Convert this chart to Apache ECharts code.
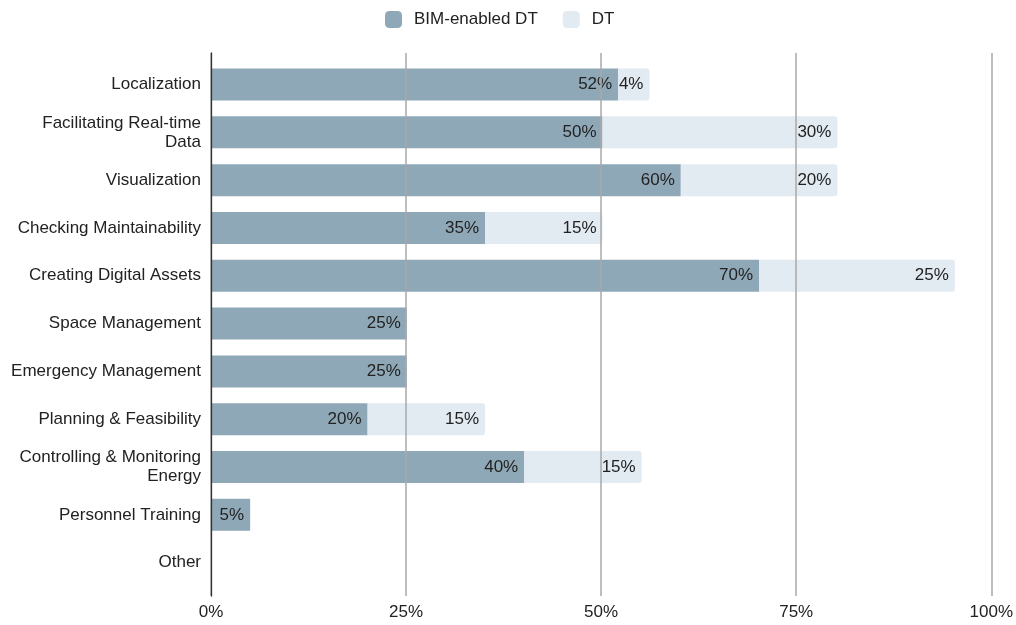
<!DOCTYPE html>
<html>
<head>
<meta charset="utf-8">
<script src="https://cdn.jsdelivr.net/npm/echarts@6/dist/echarts.min.js"></script>
<style>html,body{margin:0;padding:0;background:#fff;}#c{width:1016px;height:625px;}</style>
</head>
<body>
<div id="c"></div>
<script>
var categories = ['Localization', 'Facilitating Real-time\nData', 'Visualization', 'Checking Maintainability', 'Creating Digital Assets', 'Space Management', 'Emergency Management', 'Planning & Feasibility', 'Controlling & Monitoring\nEnergy', 'Personnel Training', 'Other'];
var bimValues = [52, 50, 60, 35, 70, 25, 25, 20, 40, 5, 0];
var dtValues = [4, 30, 20, 15, 25, 0, 0, 15, 15, 0, 0];
var xTicks = [0, 25, 50, 75, 100];

var font = 'Liberation Sans, Arial, sans-serif';
var fs = 17;
var chart = echarts.init(document.getElementById('c'), null, {renderer: 'canvas'});
function lbl(p) { return p.value > 0 ? p.value + '%' : ''; }
chart.setOption({
  animation: false,
  textStyle: {fontFamily: font},
  legend: {
    top: 6, left: 380, itemWidth: 17, itemHeight: 17, itemGap: 25, icon: 'roundRect',
    textStyle: {fontSize: fs, color: '#222', fontFamily: font, padding: [0, 0, 0, 7]},
    data: ['BIM-enabled DT', 'DT']
  },
  grid: [
    {left: 211, right: 22, top: 53, bottom: 29},
    {left: 211, right: 22, top: 60.6, height: 526}
  ],
  xAxis: [
    {gridIndex: 0, type: 'value', min: xTicks[0], max: xTicks[xTicks.length - 1], interval: 25, z: 5,
     axisLine: {show: false}, axisTick: {show: false},
     splitLine: {show: true, lineStyle: {color: '#a8a8a8', width: 1.5}},
     axisLabel: {formatter: '{value}%', fontSize: fs, color: '#222', margin: 8, fontFamily: font}},
    {gridIndex: 1, type: 'value', min: 0, max: 100, show: false}
  ],
  yAxis: [
    {gridIndex: 0, type: 'value', min: 0, max: 1, z: 6,
     axisLine: {show: true, lineStyle: {color: '#333', width: 1.3}},
     axisTick: {show: false}, axisLabel: {show: false}, splitLine: {show: false}},
    {gridIndex: 1, type: 'category', inverse: true, data: categories,
     axisLine: {show: false}, axisTick: {show: false}, splitLine: {show: false},
     axisLabel: {fontSize: fs, color: '#222', margin: 10, lineHeight: 19, align: 'right', fontFamily: font}}
  ],
  series: [
    {name: 'BIM-enabled DT', type: 'bar', stack: 'a', xAxisIndex: 1, yAxisIndex: 1,
     barWidth: 32, data: bimValues, z: 2,
     itemStyle: {color: '#8fa8b7'},
     label: {show: true, position: 'insideRight', formatter: lbl, fontSize: fs, color: '#222', distance: 6, fontFamily: font}},
    {name: 'DT', type: 'bar', stack: 'a', xAxisIndex: 1, yAxisIndex: 1,
     barWidth: 32, data: dtValues, z: 2,
     itemStyle: {color: '#e2eaf2', borderRadius: [0, 3, 3, 0]},
     label: {show: true, position: 'insideRight', formatter: lbl, fontSize: fs, color: '#222', distance: 6, fontFamily: font}}
  ]
});
</script>
</body>
</html>
